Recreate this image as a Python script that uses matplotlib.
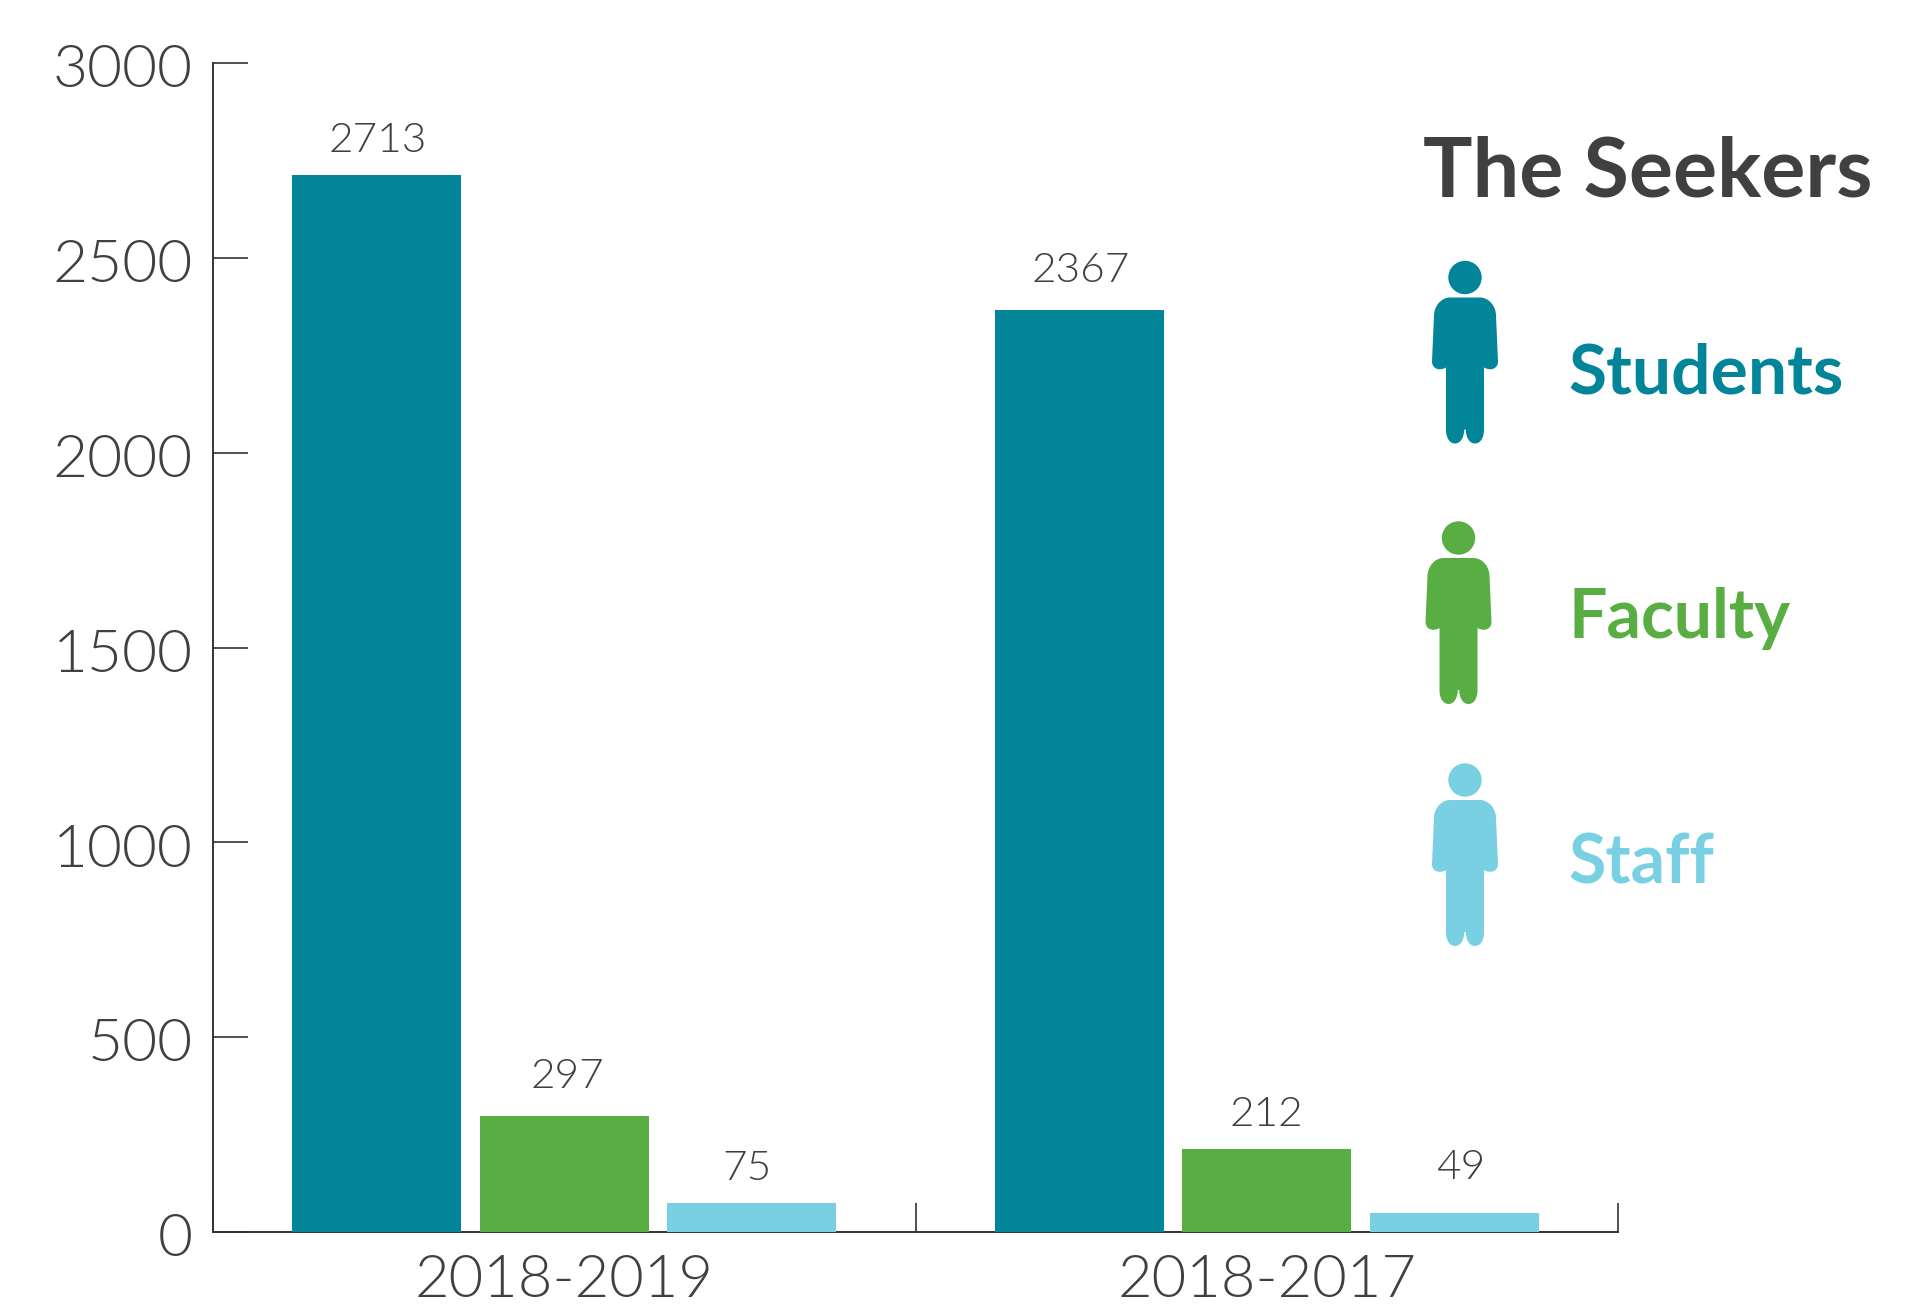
import matplotlib
matplotlib.use('Agg')
import matplotlib.pyplot as plt
from matplotlib.path import Path
from matplotlib.patches import PathPatch, Circle
from matplotlib.transforms import ScaledTranslation

years = ['2018-2019', '2018-2017']
students = [2713, 2367]
faculty = [297, 212]
staff = [75, 49]
yticks = [0, 500, 1000, 1500, 2000, 2500, 3000]

teal = '#038599'
green = '#58AE42'
blue = '#79D0E3'
grey = '#3F4041'

W, H = 1910, 1309
plt.rcParams['font.family'] = ['Lato', 'DejaVu Sans']

fig = plt.figure(figsize=(W/100, H/100), dpi=100)
ax = fig.add_axes([213/W, 1-1232/H, (1618-213)/W, (1232-63)/H])

bar_w = 0.2406
step = 0.267
for i in range(2):
    c = i + 0.5
    for off, vals, col in [(-step, students, teal), (0, faculty, green), (step, staff, blue)]:
        ax.bar(c+off, vals[i], bar_w, color=col, zorder=3)

ax.set_xlim(0, 2)
ax.set_ylim(0, 3000)
ax.spines['top'].set_visible(False)
ax.spines['right'].set_visible(False)
for s in ['left', 'bottom']:
    ax.spines[s].set_linewidth(1.4)
    ax.spines[s].set_color('#333333')

ax.set_yticks(yticks)
ax.set_yticklabels([str(t) for t in yticks], fontsize=43.5, color=grey, fontweight=300)
ax.tick_params(axis='y', direction='in', length=25, width=1.2, color='#333333', pad=14.5)
shift = ScaledTranslation(0, -2/72, fig.dpi_scale_trans)
for lab in ax.get_yticklabels():
    lab.set_transform(lab.get_transform() + shift)
ax.set_xticks([0, 1, 2])
ax.set_xticklabels([])
ax.tick_params(axis='x', direction='in', length=21, width=1.2, color='#333333')

for i, y in enumerate(years):
    ax.annotate(y, (i+0.5, 0), xytext=(0, -16), textcoords='offset points', ha='center', va='top',
                fontsize=43, color=grey, fontweight=300)

def value_label(x, v, gap):
    ax.annotate(str(v), (x, v), xytext=(0, gap), textcoords='offset points',
                ha='center', va='center', fontsize=30.5, color=grey, fontweight=300)

value_label(0.5-step+0.002, students[0], 25)
value_label(1.5-step+0.002, students[1], 28)
value_label(0.5+0.005, faculty[0], 28.5)
value_label(1.5, faculty[1], 25)
value_label(0.5+step-0.007, staff[0], 24.5)
value_label(1.5+step+0.009, staff[1], 33)

# legend side, in pixels
ov = fig.add_axes([0, 0, 1, 1], facecolor='none')
ov.set_xlim(0, W)
ov.set_ylim(H, 0)
ov.axis('off')

def person(cx, cy, col):
    ov.add_patch(Circle((cx, cy), 16.7, color=col, lw=0))
    right = [(15, 20), (24, 20), (31, 29), (31, 38), (33, 84), (33, 91), (26, 94), (19, 90),
             (19, 152), (19, 161), (15, 166), (10, 166), (5, 166), (1, 161), (0.7, 152)]
    left = [(-x, y) for x, y in reversed(right)]
    codes = [Path.MOVETO, Path.CURVE4, Path.CURVE4, Path.CURVE4, Path.LINETO, Path.CURVE4, Path.CURVE4, Path.CURVE4,
             Path.LINETO, Path.CURVE4, Path.CURVE4, Path.CURVE4, Path.CURVE4, Path.CURVE4, Path.CURVE4,
             Path.LINETO, Path.CURVE4, Path.CURVE4, Path.CURVE4, Path.CURVE4, Path.CURVE4, Path.CURVE4, Path.LINETO,
             Path.CURVE4, Path.CURVE4, Path.CURVE4, Path.LINETO, Path.CURVE4, Path.CURVE4, Path.CURVE4]
    verts = [(cx+x, cy+y) for x, y in right + left]
    ov.add_patch(PathPatch(Path(verts, codes), facecolor=col, edgecolor='none'))

person(1465, 277.5, teal)
person(1458.5, 538, green)
person(1465, 780, blue)

ov.text(1423, 173, 'The Seekers', fontsize=59.5, fontweight='bold', color=grey, va='center', ha='left')
ov.text(1568, 374, 'Students', fontsize=50, fontweight='bold', color=teal, va='center', ha='left')
ov.text(1568, 618, 'Faculty', fontsize=49, fontweight='bold', color=green, va='center', ha='left')
ov.text(1568, 864, 'Staff', fontsize=49, fontweight='bold', color=blue, va='center', ha='left')

fig.savefig('out.png', dpi=100)
